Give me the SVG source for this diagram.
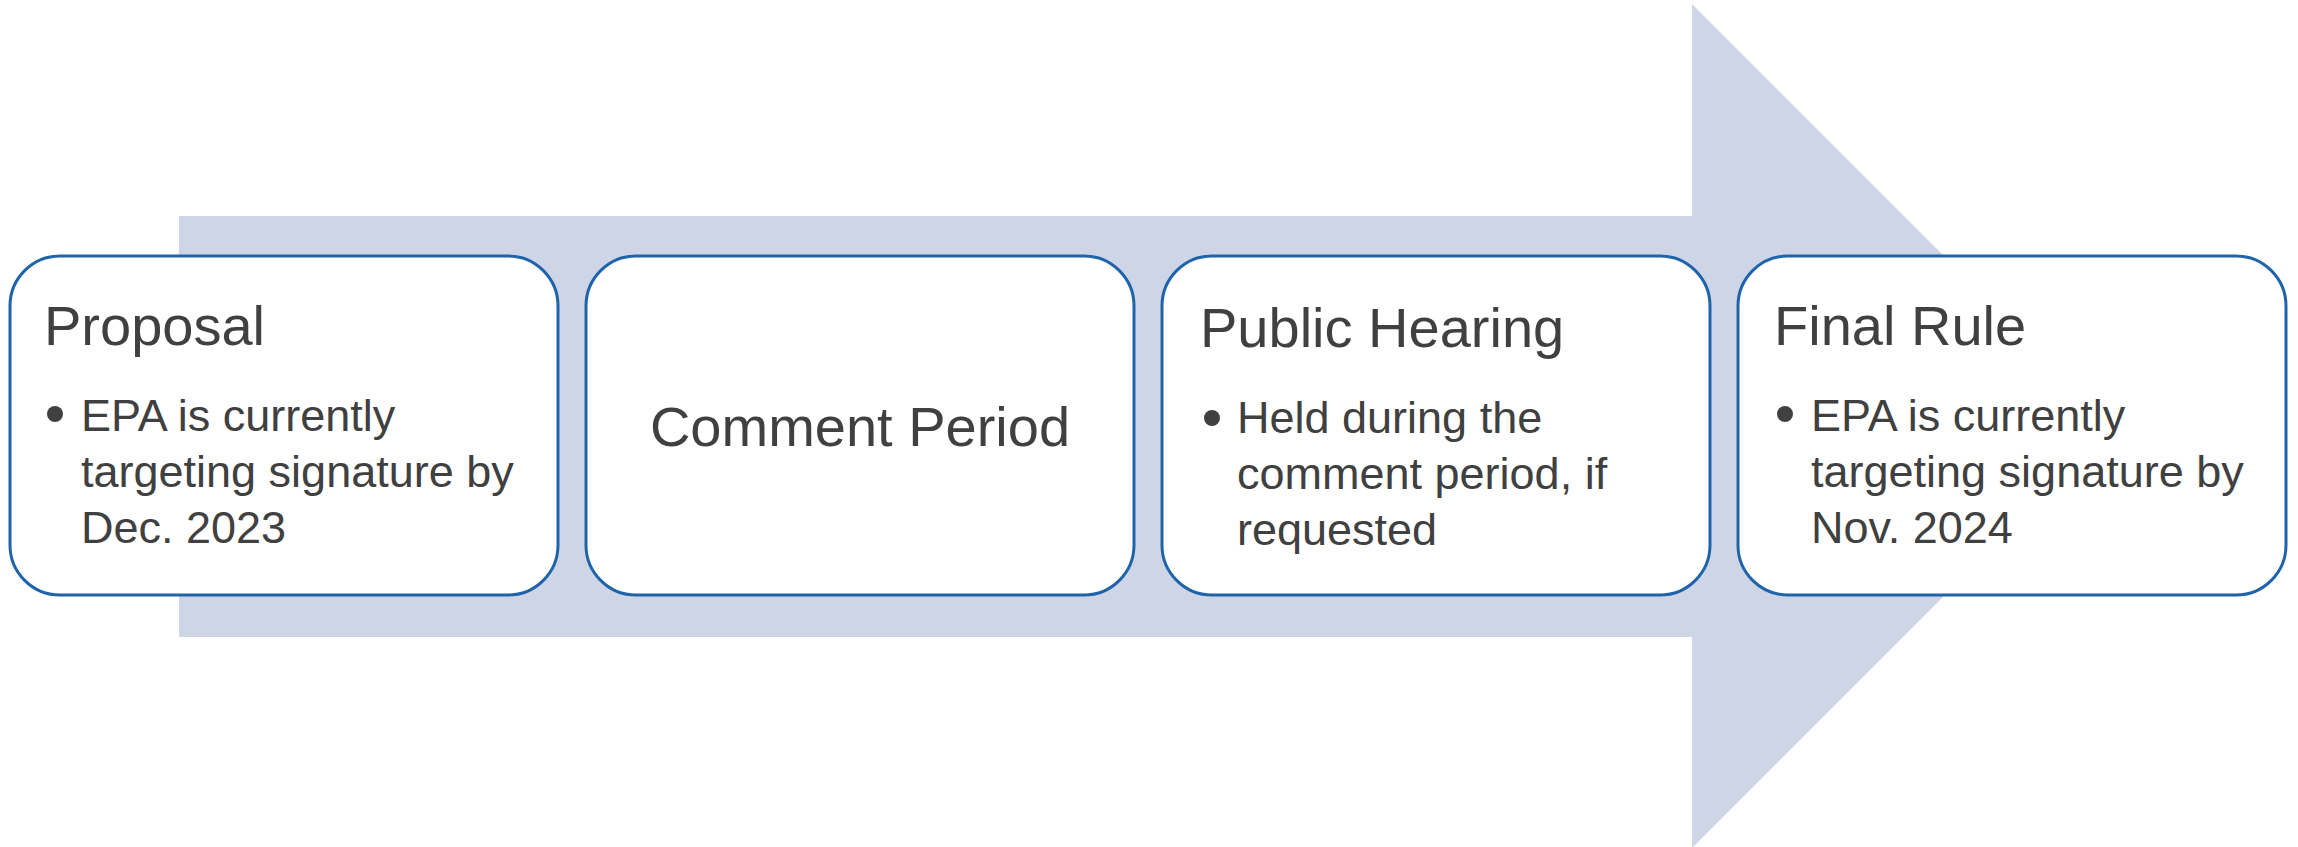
<svg xmlns="http://www.w3.org/2000/svg" width="2298" height="847" viewBox="0 0 2298 847">
  <style>
    .step { fill: #ffffff; stroke: #1f64a8; stroke-width: 3; }
    .title { font-family: "Liberation Sans", Arial, sans-serif; font-size: 56px; fill: #404040; }
    .body { font-family: "Liberation Sans", Arial, sans-serif; font-size: 45px; fill: #404040; }
    .dot { fill: #404040; }
  </style>
  <rect width="2298" height="847" fill="#ffffff"/>

  <!-- background process arrow -->
  <g id="process-arrow">
    <polygon points="179,216 1692,216 1692,4 2114,426 1692,848 1692,637 179,637" fill="#ced5e6"/>
  </g>

  <g id="connectors"></g>

  <g id="proposal">
    <rect class="step" x="10" y="256" width="548" height="339" rx="50" ry="50"/>
    <text class="title" x="44" y="345">Proposal</text>
    <circle class="dot" cx="55" cy="414" r="8"/>
    <text class="body" x="81" y="431">EPA is currently</text>
    <text class="body" x="81" y="487">targeting signature by</text>
    <text class="body" x="81" y="543">Dec. 2023</text>
  </g>

  <g id="comment-period">
    <rect class="step" x="586" y="256" width="548" height="339" rx="50" ry="50"/>
    <text class="title" x="860" y="446" text-anchor="middle">Comment Period</text>
  </g>

  <g id="public-hearing">
    <rect class="step" x="1162" y="256" width="548" height="339" rx="50" ry="50"/>
    <text class="title" x="1200" y="347">Public Hearing</text>
    <circle class="dot" cx="1212" cy="418" r="8"/>
    <text class="body" x="1237" y="433">Held during the</text>
    <text class="body" x="1237" y="489">comment period, if</text>
    <text class="body" x="1237" y="545">requested</text>
  </g>

  <g id="final-rule">
    <rect class="step" x="1738" y="256" width="548" height="339" rx="50" ry="50"/>
    <text class="title" x="1774" y="345">Final Rule</text>
    <circle class="dot" cx="1785" cy="414" r="8"/>
    <text class="body" x="1811" y="431">EPA is currently</text>
    <text class="body" x="1811" y="487">targeting signature by</text>
    <text class="body" x="1811" y="543">Nov. 2024</text>
  </g>
</svg>
